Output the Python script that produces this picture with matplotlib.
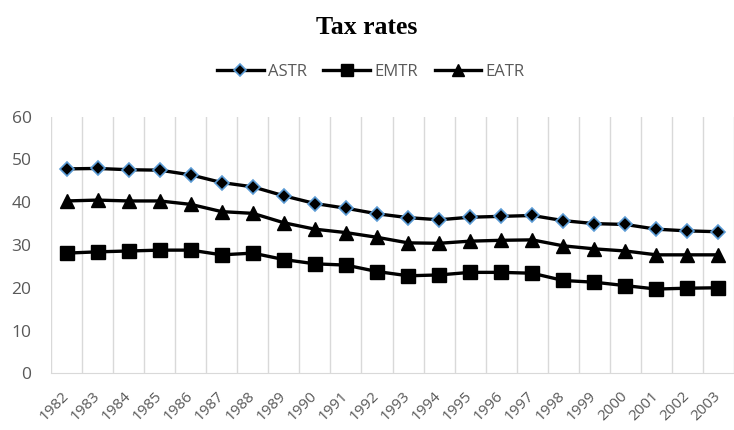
import matplotlib.pyplot as plt
import numpy as np

years = [str(y) for y in range(1982, 2004)]
astr = [47.8, 47.9, 47.6, 47.5, 46.4, 44.6, 43.6, 41.5, 39.7, 38.6, 37.3,
        36.4, 35.9, 36.5, 36.7, 36.9, 35.7, 35.0, 34.8, 33.7, 33.3, 33.1]
emtr = [28.1, 28.4, 28.6, 28.8, 28.8, 27.7, 28.1, 26.6, 25.6, 25.3, 23.8,
        22.8, 23.0, 23.6, 23.6, 23.4, 21.7, 21.3, 20.5, 19.7, 19.9, 20.0]
eatr = [40.3, 40.5, 40.3, 40.3, 39.5, 37.8, 37.4, 35.2, 33.7, 32.9, 31.8,
        30.5, 30.4, 30.9, 31.1, 31.2, 29.8, 29.1, 28.6, 27.7, 27.7, 27.7]
yticks = [0, 10, 20, 30, 40, 50, 60]

plt.rcParams['font.family'] = ['Open Sans', 'DejaVu Sans']
fig = plt.figure(figsize=(7.34, 4.30), dpi=100)
ax = fig.add_axes([51 / 734, 1 - 373.3 / 430, 683 / 734, (373.3 - 116.7) / 430])

x = np.arange(len(years))
ax.plot(x, astr, color='black', lw=2.4, marker='D', ms=7.5, mfc='black',
        mec='#5B9BD5', mew=1.2, label='ASTR', zorder=3)
ax.plot(x, emtr, color='black', lw=2.4, marker='s', ms=9.5, mfc='black',
        mec='black', label='EMTR', zorder=3)
ax.plot(x, eatr, color='black', lw=2.4, marker='^', ms=10, mfc='black',
        mec='black', label='EATR', zorder=3)

ax.set_xlim(-0.5, len(years) - 0.5)
ax.set_ylim(0, 60)
ax.set_yticks(yticks)
ax.set_xticks(x)
ax.set_xticklabels(years, rotation=45, ha='right', va='center',
                   rotation_mode='anchor')
ax.set_xticks(np.arange(-0.5, len(years)), minor=True)
ax.grid(True, which='minor', axis='x', color='#D9D9D9', lw=1)
ax.tick_params(axis='both', which='both', length=0, colors='#595959')
ax.tick_params(axis='x', pad=15, labelsize=11)
ax.tick_params(axis='y', pad=14, labelsize=12.5)
for s in ['top', 'right', 'left']:
    ax.spines[s].set_visible(False)
ax.spines['bottom'].set_color('#D9D9D9')

fig.text(0.5, 1 - 28 / 430, 'Tax rates', ha='center', va='center',
         fontsize=18.5, fontweight='bold', family='Liberation Serif')
fig.legend(loc='center', bbox_to_anchor=(0.505, 1 - 72 / 430), ncol=3,
           frameon=False, handlelength=2.8, handletextpad=0.25,
           columnspacing=1.0, fontsize=12, labelcolor='#595959',
           markerscale=0.85)

fig.savefig('out.png', dpi=100)
